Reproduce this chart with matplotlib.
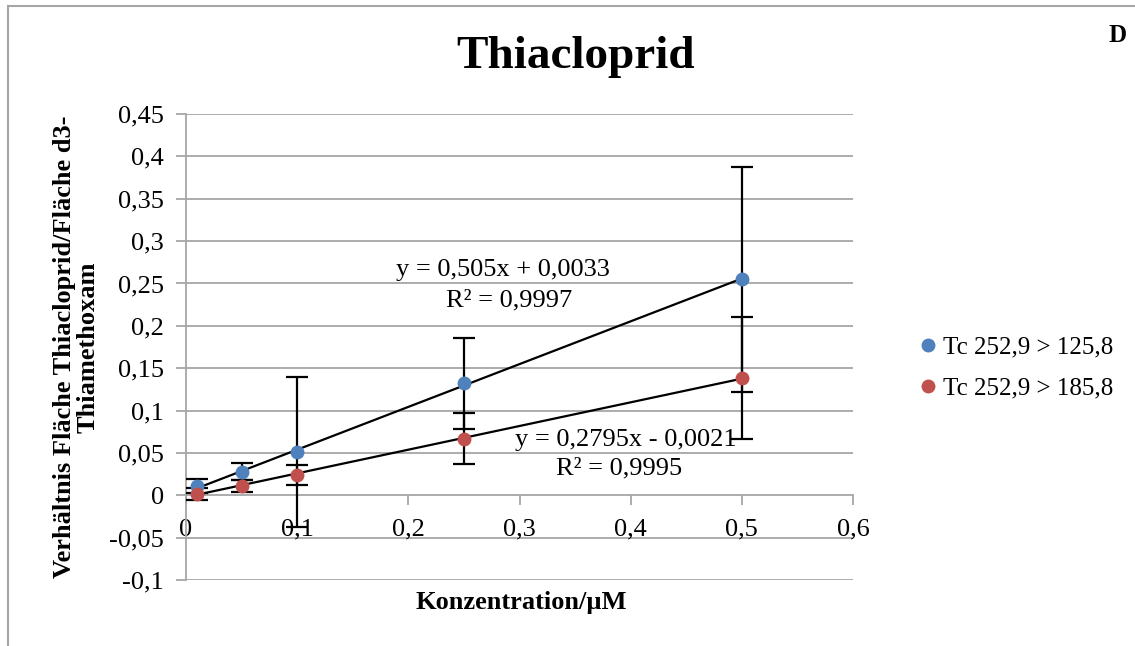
import matplotlib
matplotlib.use("Agg")
import matplotlib.pyplot as plt
import numpy as np
from matplotlib.lines import Line2D

plt.rcParams['font.family'] = ['Liberation Serif', 'DejaVu Serif']

conc = [0.01, 0.05, 0.1, 0.25, 0.5]
s1_name = "Tc 252,9 > 125,8"
s1_vals = [0.011, 0.028, 0.051, 0.132, 0.255]
s1_err = [0.008, 0.010, 0.089, 0.054, 0.133]
s2_name = "Tc 252,9 > 185,8"
s2_vals = [0.002, 0.011, 0.024, 0.067, 0.138]
s2_err = [0.007, 0.007, 0.012, 0.030, 0.072]
fit1 = (0.505, 0.0033)
fit2 = (0.2795, -0.0021)
eq1 = ["y = 0,505x + 0,0033", "R² = 0,9997"]
eq2 = ["y = 0,2795x - 0,0021", "R² = 0,9995"]
xticks = [0, 0.1, 0.2, 0.3, 0.4, 0.5, 0.6]
yticks = [-0.1, -0.05, 0, 0.05, 0.1, 0.15, 0.2, 0.25, 0.3, 0.35, 0.4, 0.45]

blue = '#4F81BD'
red = '#C0504D'
grid = '#A6A6A6'

fig = plt.figure(figsize=(11.35, 6.46), dpi=100)
ax = fig.add_axes([186/1135, 1-580/646, (853-186)/1135, (580-114)/646])
ax.set_xlim(0, 0.6)
ax.set_ylim(-0.1, 0.45)

for sp in ['top', 'right']:
    ax.spines[sp].set_visible(False)
ax.spines['left'].set_color(grid)
ax.spines['left'].set_linewidth(1.3)
ax.spines['bottom'].set_position(('data', 0))
ax.spines['bottom'].set_color(grid)
ax.spines['bottom'].set_linewidth(1.3)

for yt in yticks:
    if yt != 0:
        ax.axhline(yt, color=grid, lw=1.3, zorder=0)

def fmt(v):
    return ('%g' % v).replace('.', ',')

ax.set_yticks(yticks)
ax.set_yticklabels([fmt(v) for v in yticks], fontsize=19)
ax.set_xticks(xticks)
ax.set_xticklabels([fmt(v) for v in xticks], fontsize=19)
ax.tick_params(axis='y', direction='out', length=7, width=1.3, color=grid, pad=9)
ax.tick_params(axis='x', direction='out', length=7, width=1.3, color=grid, pad=10)

xs = np.array([conc[0], conc[-1]])
ax.plot(xs, fit1[0]*xs + fit1[1], color='black', lw=1.6, zorder=3)
ax.plot(xs, fit2[0]*xs + fit2[1], color='black', lw=1.6, zorder=3)

for vals, err in [(s1_vals, s1_err), (s2_vals, s2_err)]:
    ax.errorbar(conc, vals, yerr=err, fmt='none', ecolor='black', elinewidth=1.6,
                capsize=8, capthick=1.6, zorder=4)
for vals, col in [(s1_vals, blue), (s2_vals, red)]:
    ax.plot(conc, vals, 'o', color=col, ms=9, zorder=5, lw=0)

ax.text(0.285, 0.2655, eq1[0], fontsize=19, ha='center', va='center', zorder=6)
ax.text(0.291, 0.2305, eq1[1], fontsize=19, ha='center', va='center', zorder=6)
ax.text(0.396, 0.0655, eq2[0], fontsize=19, ha='center', va='center', zorder=6)
ax.text(0.390, 0.032, eq2[1], fontsize=19, ha='center', va='center', zorder=6)

fig.text(521/1135, 1-603/646, "Konzentration/µM", fontsize=19, fontweight='bold',
         ha='center', va='center')

fig.text(76/1135, 1-347/646, "Verhältnis Fläche Thiacloprid/Fläche d3-\nThiamethoxam",
         fontsize=19, fontweight='bold', rotation=90, ha='center', va='center',
         linespacing=1.05, multialignment='center')

fig.text(576/1135, 1-57/646, "Thiacloprid", fontsize=34, fontweight='bold',
         ha='center', va='center')
fig.text(1118/1135, 1-35/646, "D", fontsize=18, fontweight='bold', ha='center', va='center')

handles = [Line2D([], [], marker='o', color=blue, ls='none', ms=9),
           Line2D([], [], marker='o', color=red, ls='none', ms=9)]
fig.legend(handles, [s1_name, s2_name], loc='center left',
           bbox_to_anchor=(893/1135, 1-368/646), frameon=False, fontsize=18,
           handletextpad=0.1, labelspacing=0.75, handlelength=1.0)

# outer frame
fig.add_artist(Line2D([8/1135, 8/1135], [0, 1-6/646], transform=fig.transFigure,
                      color='#A6A6A6', lw=1.5))
fig.add_artist(Line2D([8/1135, 1], [1-6/646, 1-6/646], transform=fig.transFigure,
                      color='#A6A6A6', lw=1.5))

fig.savefig('out.png', dpi=100)
